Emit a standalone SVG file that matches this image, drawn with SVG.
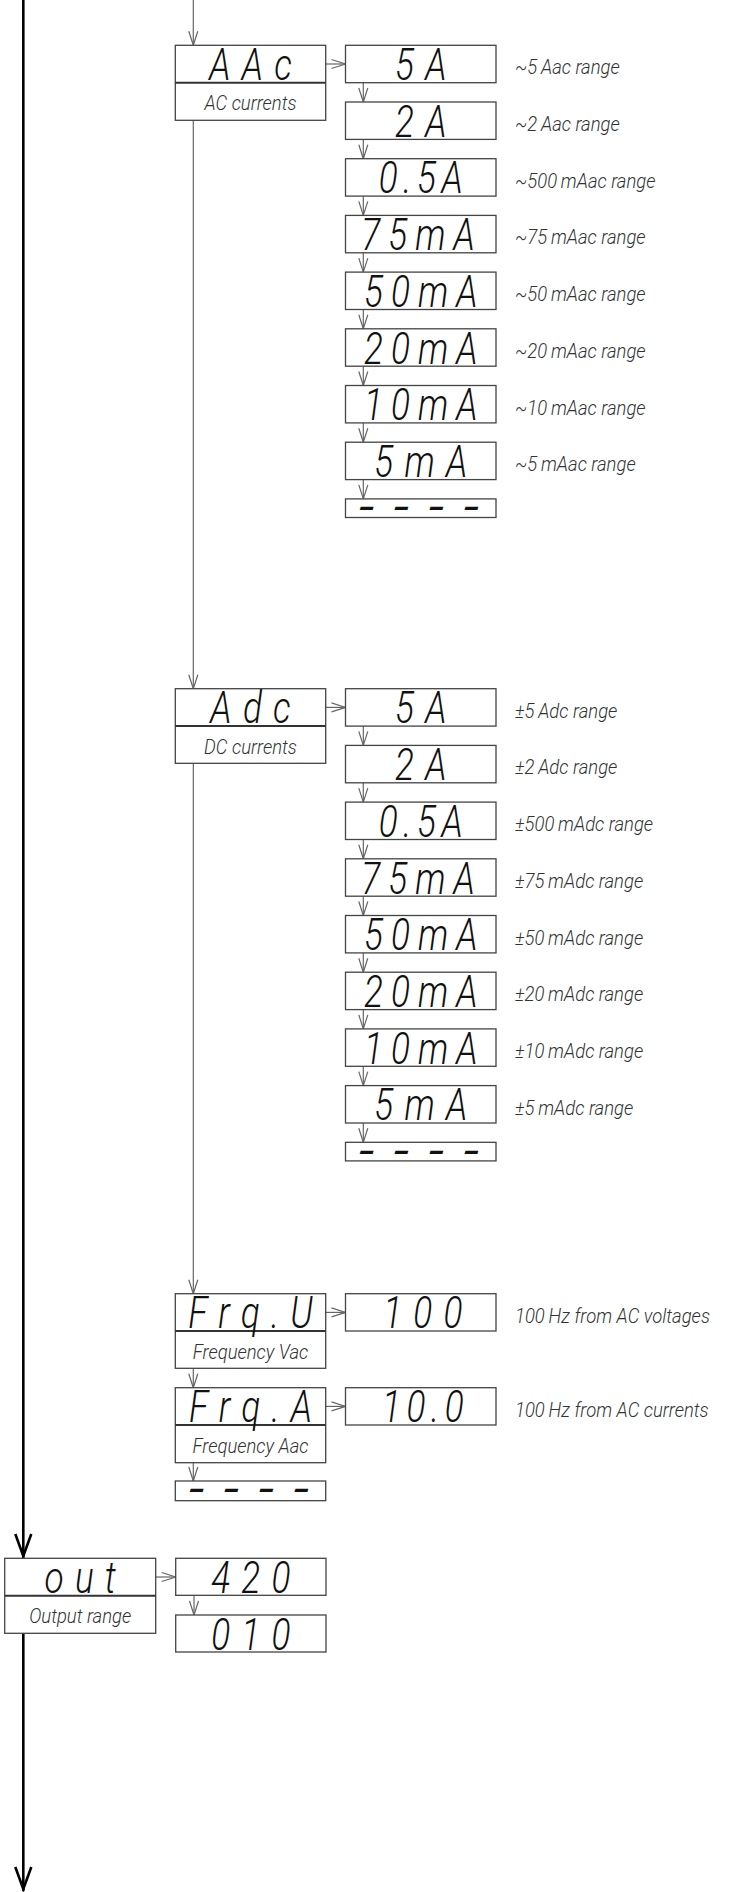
<svg xmlns="http://www.w3.org/2000/svg" width="733" height="1892" viewBox="0 0 733 1892">
<defs>
<style>
.box{fill:#fff;stroke:#444;stroke-width:1.3}
.dv{stroke:#333;stroke-width:2}
.lcd{font-family:Roboto,"Liberation Sans",sans-serif;font-style:italic;font-weight:300;font-size:44px;fill:#111;text-anchor:middle;letter-spacing:14px}
.nar{letter-spacing:10px}
.dot{letter-spacing:7px}
.dash{font-family:Roboto,"Liberation Sans",sans-serif;font-style:italic;font-weight:700;font-size:30px;fill:#111;text-anchor:middle;letter-spacing:10.4px}
.lbl{font-family:Roboto,"Liberation Sans",sans-serif;font-style:italic;font-weight:300;font-size:21px;fill:#333}
.mid{text-anchor:middle}
.con{stroke:#666;stroke-width:1.2;fill:none;marker-end:url(#ah)}
.thk{stroke:#000;stroke-width:2.6;fill:none;marker-end:url(#ahb)}
</style>
<marker id="ah" markerUnits="userSpaceOnUse" markerWidth="16" markerHeight="12" refX="14" refY="5" orient="auto" overflow="visible"><path d="M0,0.5 L14,5 L0,9.5" fill="none" stroke="#666" stroke-width="1.2"/></marker>
<marker id="ahb" markerUnits="userSpaceOnUse" markerWidth="28" markerHeight="20" refX="24" refY="8" orient="auto" overflow="visible"><path d="M0,0 L22,8 L0,16" fill="none" stroke="#000" stroke-width="2.6"/></marker>
</defs>

<g id="connectors">
<path class="thk" d="M23.3,0 V1558"/>
<path class="thk" d="M23.3,1633.3 V1891"/>
<path class="con" d="M193.3,0 V45.3"/>
<path class="con" d="M193.3,120.3 V688.7"/>
<path class="con" d="M193.3,763.3 V1293.7"/>
<path class="con" d="M193.3,1368.3 V1387.7"/>
<path class="con" d="M193.3,1462.7 V1481"/>
<path class="con" d="M325.7,64 H345.5"/>
<path class="con" d="M325.7,707.4 H345.5"/>
<path class="con" d="M325.7,1312.4 H345.5"/>
<path class="con" d="M325.7,1406.4 H345.5"/>
<path class="con" d="M155.7,1577 H175.7"/>
<path class="con" d="M194,1595.3 V1615"/>
<path class="con" d="M363.3,82.7 V102"/>
<path class="con" d="M363.3,139.4 V158.7"/>
<path class="con" d="M363.3,196.1 V215.4"/>
<path class="con" d="M363.3,252.8 V272.1"/>
<path class="con" d="M363.3,309.5 V328.8"/>
<path class="con" d="M363.3,366.2 V385.5"/>
<path class="con" d="M363.3,422.9 V442.2"/>
<path class="con" d="M363.3,479.6 V498.9"/>
<path class="con" d="M363.3,726.1 V745.4"/>
<path class="con" d="M363.3,782.8 V802.1"/>
<path class="con" d="M363.3,839.5 V858.8"/>
<path class="con" d="M363.3,896.2 V915.5"/>
<path class="con" d="M363.3,952.9 V972.2"/>
<path class="con" d="M363.3,1009.6 V1028.9"/>
<path class="con" d="M363.3,1066.3 V1085.6"/>
<path class="con" d="M363.3,1123 V1142.3"/>
</g>

<g id="n-AAc">
<rect class="box" x="175.3" y="45.3" width="150.4" height="75"/>
<line class="dv" x1="175.3" y1="82.7" x2="325.7" y2="82.7"/>
<text class="lcd" transform="translate(250.5,80) scale(0.8,1)" x="7">AAc</text>
<text class="lbl mid" transform="translate(250.5,110) scale(0.88,1)">AC currents</text>
</g>

<g id="ac-5A"><rect class="box" x="345.5" y="45.3" width="150.5" height="37.4"/><text class="lcd" transform="translate(420.8,80) scale(0.8,1)" x="7">5A</text><text class="lbl" transform="translate(515,74.3) scale(0.88,1)">~5&#8201;Aac range</text></g>
<g id="ac-2A"><rect class="box" x="345.5" y="102" width="150.5" height="37.4"/><text class="lcd" transform="translate(420.8,136.7) scale(0.8,1)" x="7">2A</text><text class="lbl" transform="translate(515,131) scale(0.88,1)">~2&#8201;Aac range</text></g>
<g id="ac-05A"><rect class="box" x="345.5" y="158.7" width="150.5" height="37.4"/><text class="lcd dot" transform="translate(420.8,193.4) scale(0.8,1)" x="3.5">0.5A</text><text class="lbl" transform="translate(515,187.7) scale(0.88,1)">~500&#8201;mAac range</text></g>
<g id="ac-75mA"><rect class="box" x="345.5" y="215.4" width="150.5" height="37.4"/><text class="lcd nar" transform="translate(418,250.1) scale(0.8,1)" x="5">75mA</text><text class="lbl" transform="translate(515,244.4) scale(0.88,1)">~75&#8201;mAac range</text></g>
<g id="ac-50mA"><rect class="box" x="345.5" y="272.1" width="150.5" height="37.4"/><text class="lcd nar" transform="translate(420.8,306.8) scale(0.8,1)" x="5">50mA</text><text class="lbl" transform="translate(515,301.1) scale(0.88,1)">~50&#8201;mAac range</text></g>
<g id="ac-20mA"><rect class="box" x="345.5" y="328.8" width="150.5" height="37.4"/><text class="lcd nar" transform="translate(420.8,363.5) scale(0.8,1)" x="5">20mA</text><text class="lbl" transform="translate(515,357.8) scale(0.88,1)">~20&#8201;mAac range</text></g>
<g id="ac-10mA"><rect class="box" x="345.5" y="385.5" width="150.5" height="37.4"/><text class="lcd nar" transform="translate(420.8,420.2) scale(0.8,1)" x="5">10mA</text><text class="lbl" transform="translate(515,414.5) scale(0.88,1)">~10&#8201;mAac range</text></g>
<g id="ac-5mA"><rect class="box" x="345.5" y="442.2" width="150.5" height="37.4"/><text class="lcd" transform="translate(420.8,476.9) scale(0.8,1)" x="7">5mA</text><text class="lbl" transform="translate(515,471.2) scale(0.88,1)">~5&#8201;mAac range</text></g>
<g id="ac-end"><rect class="box" x="345.5" y="498.9" width="150.5" height="18.6"/><text class="dash" transform="translate(419,517.2) scale(1.6,1)" x="5.2">----</text></g>

<g id="n-Adc">
<rect class="box" x="175.3" y="688.7" width="150.4" height="74.6"/>
<line class="dv" x1="175.3" y1="726" x2="325.7" y2="726"/>
<text class="lcd" transform="translate(250.5,723.4) scale(0.8,1)" x="7">Adc</text>
<text class="lbl mid" transform="translate(250.5,753.5) scale(0.88,1)">DC currents</text>
</g>

<g id="dc-5A"><rect class="box" x="345.5" y="688.7" width="150.5" height="37.4"/><text class="lcd" transform="translate(420.8,723.4) scale(0.8,1)" x="7">5A</text><text class="lbl" transform="translate(515,717.7) scale(0.88,1)">±5&#8201;Adc range</text></g>
<g id="dc-2A"><rect class="box" x="345.5" y="745.4" width="150.5" height="37.4"/><text class="lcd" transform="translate(420.8,780.1) scale(0.8,1)" x="7">2A</text><text class="lbl" transform="translate(515,774.4) scale(0.88,1)">±2&#8201;Adc range</text></g>
<g id="dc-05A"><rect class="box" x="345.5" y="802.1" width="150.5" height="37.4"/><text class="lcd dot" transform="translate(420.8,836.8) scale(0.8,1)" x="3.5">0.5A</text><text class="lbl" transform="translate(515,831.1) scale(0.88,1)">±500&#8201;mAdc range</text></g>
<g id="dc-75mA"><rect class="box" x="345.5" y="858.8" width="150.5" height="37.4"/><text class="lcd nar" transform="translate(418,893.5) scale(0.8,1)" x="5">75mA</text><text class="lbl" transform="translate(515,887.8) scale(0.88,1)">±75&#8201;mAdc range</text></g>
<g id="dc-50mA"><rect class="box" x="345.5" y="915.5" width="150.5" height="37.4"/><text class="lcd nar" transform="translate(420.8,950.2) scale(0.8,1)" x="5">50mA</text><text class="lbl" transform="translate(515,944.5) scale(0.88,1)">±50&#8201;mAdc range</text></g>
<g id="dc-20mA"><rect class="box" x="345.5" y="972.2" width="150.5" height="37.4"/><text class="lcd nar" transform="translate(420.8,1006.9) scale(0.8,1)" x="5">20mA</text><text class="lbl" transform="translate(515,1001.2) scale(0.88,1)">±20&#8201;mAdc range</text></g>
<g id="dc-10mA"><rect class="box" x="345.5" y="1028.9" width="150.5" height="37.4"/><text class="lcd nar" transform="translate(420.8,1063.6) scale(0.8,1)" x="5">10mA</text><text class="lbl" transform="translate(515,1057.9) scale(0.88,1)">±10&#8201;mAdc range</text></g>
<g id="dc-5mA"><rect class="box" x="345.5" y="1085.6" width="150.5" height="37.4"/><text class="lcd" transform="translate(420.8,1120.3) scale(0.8,1)" x="7">5mA</text><text class="lbl" transform="translate(515,1114.6) scale(0.88,1)">±5&#8201;mAdc range</text></g>
<g id="dc-end"><rect class="box" x="345.5" y="1142.3" width="150.5" height="18.6"/><text class="dash" transform="translate(419,1160.6) scale(1.6,1)" x="5.2">----</text></g>

<g id="n-FrqU">
<rect class="box" x="175.3" y="1293.7" width="150.4" height="74.6"/>
<line class="dv" x1="175.3" y1="1331" x2="325.7" y2="1331"/>
<text class="lcd" transform="translate(250.5,1328.4) scale(0.8,1)" x="7">Frq.U</text>
<text class="lbl mid" transform="translate(250.5,1358.5) scale(0.88,1)">Frequency Vac</text>
</g>
<g id="fu-100"><rect class="box" x="345.5" y="1293.7" width="150.5" height="37.3"/><text class="lcd" transform="translate(422.8,1328.4) scale(0.8,1)" x="7">100</text><text class="lbl" transform="translate(515,1322.7) scale(0.88,1)">100&#8201;Hz from AC voltages</text></g>

<g id="n-FrqA">
<rect class="box" x="175.3" y="1387.7" width="150.4" height="75"/>
<line class="dv" x1="175.3" y1="1425" x2="325.7" y2="1425"/>
<text class="lcd" transform="translate(250.5,1422.4) scale(0.8,1)" x="7">Frq.A</text>
<text class="lbl mid" transform="translate(250.5,1452.5) scale(0.88,1)">Frequency Aac</text>
</g>
<g id="fa-100"><rect class="box" x="345.5" y="1387.7" width="150.5" height="37.3"/><text class="lcd dot" transform="translate(422.8,1422.4) scale(0.8,1)" x="3.5">10.0</text><text class="lbl" transform="translate(515,1416.7) scale(0.88,1)">100&#8201;Hz from AC currents</text></g>

<g id="fr-end"><rect class="box" x="175.3" y="1481" width="150.4" height="19.7"/><text class="dash" transform="translate(249,1499.4) scale(1.6,1)" x="5.2">----</text></g>

<g id="n-out">
<rect class="box" x="4.7" y="1558.3" width="151" height="75"/>
<line class="dv" x1="4.7" y1="1595.7" x2="155.7" y2="1595.7"/>
<text class="lcd" transform="translate(80.2,1593) scale(0.8,1)" x="7">out</text>
<text class="lbl mid" transform="translate(80.2,1623) scale(0.88,1)">Output range</text>
</g>
<g id="o-420"><rect class="box" x="175.7" y="1558.3" width="150.3" height="37"/><text class="lcd" transform="translate(250.8,1593) scale(0.8,1)" x="7">420</text></g>
<g id="o-010"><rect class="box" x="175.7" y="1615" width="150.3" height="37"/><text class="lcd" transform="translate(250.8,1649.7) scale(0.8,1)" x="7">010</text></g>
</svg>
